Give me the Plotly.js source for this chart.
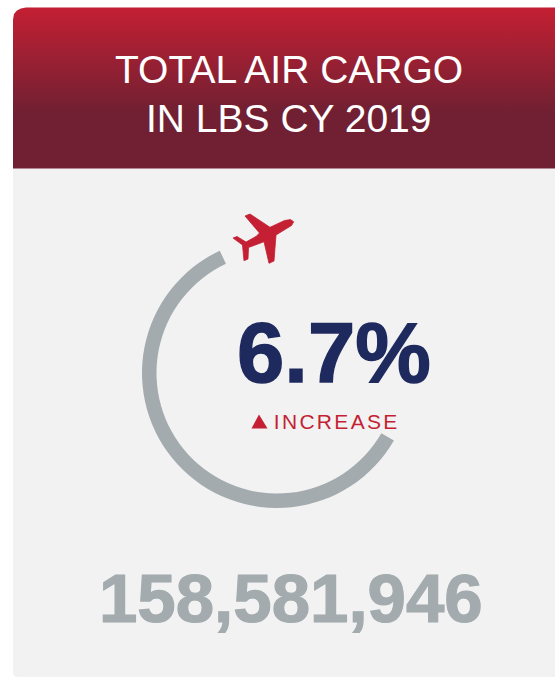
<!DOCTYPE html>
<html>
<head>
<meta charset="utf-8">
<script src="https://cdn.plot.ly/plotly-3.0.1.min.js"></script>
<style>
  html, body { margin: 0; padding: 0; background: #fff; overflow: hidden; }
  #card { width: 555px; height: 678px; }
  g.annotation[data-index="3"] text { letter-spacing: 2.3px; }
  g.annotation[data-index="2"] text { stroke: #1e2a5e; stroke-width: 1.4px; }
  g.annotation[data-index="4"] text { stroke: #a3abae; stroke-width: 1.2px; }
</style>
</head>
<body>
<div id="card"></div>
<script>
// Headline figures
const titleLines = ['TOTAL AIR CARGO', 'IN LBS CY 2019'];
const changeLabel = '6.7%';
const directionLabel = 'INCREASE';
const totalLabel = '158,581,946';

// Ring shares: drawn arc, open gap
const ringLabels = ['arc', 'gap'];
const ringValues = [59.7, 40.3];

// Header band outline with its rounded top-left corner
const headerX = [13, 13, 14, 17, 21, 26, 560, 560, 13];
const headerY = [168.5, 20, 14, 10.5, 8.5, 7.5, 7.5, 168.5, 168.5];

// Aeroplane glyph outline
const planeX = [245, 250, 270, 284.5, 290.5, 293.7, 291.5, 276, 274, 269, 264, 248.5, 248, 244, 242.5, 233, 237, 246, 256.3, 259.5, 245];
const planeY = [216, 214, 227.3, 220.5, 219.6, 221.8, 225.5, 235, 261, 263.3, 241.7, 247.5, 259, 260.7, 245, 238, 236.5, 242, 236.3, 233, 216];

// Small "up" triangle next to the direction label
const arrowX = [251.5, 259, 267.5, 251.5];
const arrowY = [428.5, 414.5, 428.5, 428.5];

const W = 555, H = 678;
const RED = '#c41f33', DARK_RED = '#702032', NAVY = '#1e2a5e', GREY = '#a3abae', PANEL = '#f2f2f2';
const FONT = '"Liberation Sans", Arial, Helvetica, sans-serif';

// Ring geometry in pixels
const cx = 277, cy = 373, outerR = 135, innerR = 120.5;

const traces = [
  {
    type: 'scatter', mode: 'lines', x: headerX, y: headerY,
    fill: 'toself', line: { width: 0 }, hoverinfo: 'skip',
    fillgradient: {
      type: 'vertical', start: 7.5, stop: 168.5,
      colorscale: [[0, RED], [0.65, DARK_RED], [1, DARK_RED]]
    }
  },
  {
    type: 'scatter', mode: 'lines', x: planeX, y: planeY,
    fill: 'toself', fillcolor: RED, line: { width: 0.8, color: RED }, hoverinfo: 'skip'
  },
  {
    type: 'scatter', mode: 'lines', x: arrowX, y: arrowY,
    fill: 'toself', fillcolor: RED, line: { width: 0 }, hoverinfo: 'skip'
  },
  {
    type: 'pie', labels: ringLabels, values: ringValues, sort: false,
    direction: 'clockwise', rotation: 120, hole: innerR / outerR,
    textinfo: 'none', hoverinfo: 'skip',
    marker: { colors: [GREY, 'rgba(0,0,0,0)'], line: { width: 0 } },
    domain: {
      x: [(cx - outerR) / W, (cx + outerR) / W],
      y: [1 - (cy + outerR) / H, 1 - (cy - outerR) / H]
    }
  }
];

function label(text, x, y, size, color, bold) {
  return {
    text: bold ? '<b>' + text + '</b>' : text,
    x: x, y: y, xref: 'x', yref: 'y',
    xanchor: 'center', yanchor: 'middle',
    showarrow: false,
    font: { family: FONT, size: size, color: color }
  };
}

const layout = {
  width: W, height: H,
  margin: { l: 0, r: 0, t: 0, b: 0 },
  paper_bgcolor: '#fff', plot_bgcolor: 'rgba(0,0,0,0)',
  showlegend: false,
  xaxis: { range: [0, W], visible: false, fixedrange: true },
  yaxis: { range: [H, 0], visible: false, fixedrange: true },
  shapes: [{
    type: 'path', layer: 'below', xref: 'x', yref: 'y',
    path: 'M 13 20 L 13 672 Q 13 677 18 677 L 560 677 L 560 7.5 L 26 7.5 Q 13 7.5 13 20 Z',
    fillcolor: PANEL, line: { width: 0 }
  }],
  annotations: [
    label(titleLines[0], 288.5, 69, 39, '#ffffff', false),
    label(titleLines[1], 288.5, 118, 39, '#ffffff', false),
    label(changeLabel, 333.5, 352, 85, NAVY, true),
    label(directionLabel, 336, 421, 21, RED, false),
    label(totalLabel, 290.5, 598, 69, GREY, true)
  ]
};

Plotly.newPlot('card', traces, layout, { displayModeBar: false, staticPlot: true });
</script>
</body>
</html>
